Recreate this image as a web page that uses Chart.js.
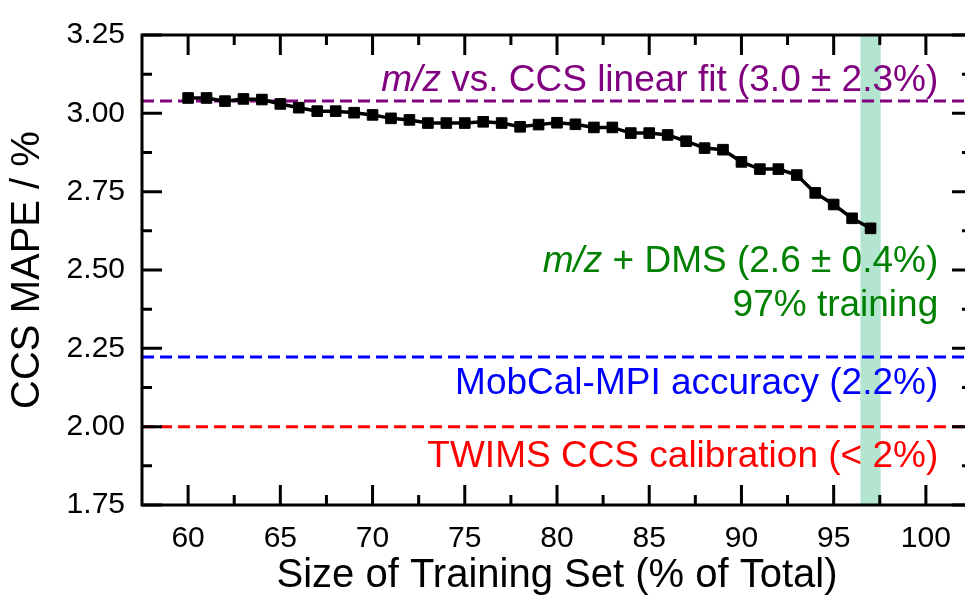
<!DOCTYPE html>
<html>
<head>
<meta charset="utf-8">
<script src="https://cdn.jsdelivr.net/npm/chart.js@4.4.0/dist/chart.umd.min.js"></script>
<style>
  html, body { margin: 0; padding: 0; background: #fff; overflow: hidden; }
  #wrap { width: 982px; height: 603px; }
</style>
</head>
<body>
<div id="wrap"><canvas id="chart" width="982" height="603"></canvas></div>
<script>
// ----- DATA -----
const trainingSize = [60, 61, 62, 63, 64, 65, 66, 67, 68, 69, 70, 71, 72, 73, 74, 75, 76, 77, 78, 79,
                      80, 81, 82, 83, 84, 85, 86, 87, 88, 89, 90, 91, 92, 93, 94, 95, 96, 97];
const mapeValues = [3.049, 3.049, 3.039, 3.046, 3.044, 3.030, 3.018, 3.007, 3.007, 3.002,
                    2.995, 2.984, 2.979, 2.969, 2.969, 2.969, 2.973, 2.969, 2.957, 2.964,
                    2.970, 2.965, 2.955, 2.955, 2.937, 2.937, 2.931, 2.911, 2.889, 2.884,
                    2.845, 2.822, 2.822, 2.803, 2.746, 2.709, 2.665, 2.633];

const xTicks = [60, 65, 70, 75, 80, 85, 90, 95, 100];
const xMinorTicks = [62.5, 67.5, 72.5, 77.5, 82.5, 87.5, 92.5, 97.5];
const yTicks = [1.75, 2.00, 2.25, 2.50, 2.75, 3.00, 3.25];
const yMinorTicks = [1.875, 2.125, 2.375, 2.625, 2.875, 3.125];

const linearFitLevel = 3.039;   // m/z vs. CCS linear fit
const mobcalLevel = 2.222;      // MobCal-MPI accuracy
const twimsLevel = 2.00;        // TWIMS CCS calibration
const highlightRange = [96.45, 97.55];
const xRange = [57.5, 102.5];

// ----- STYLE -----
const FONT = '"Liberation Sans", Arial, sans-serif';
const PURPLE = '#800080', GREEN = '#008000', BLUE = '#0000ff', RED = '#ff0000';
const ANN_SIZE = 37;

// text blocks: [text, italic] segments, right edge and baseline in data units
const annotations = [
  { parts: [['m/z', true], [' vs. CCS linear fit (3.0 \u00b1 2.3%)', false]], color: PURPLE, x: 100.67, y: 3.070 },
  { parts: [['m/z', true], [' + DMS (2.6 \u00b1 0.4%)', false]], color: GREEN, x: 100.67, y: 2.495 },
  { parts: [['97% training', false]], color: GREEN, x: 100.67, y: 2.354 },
  { parts: [['MobCal-MPI accuracy (2.2%)', false]], color: BLUE, x: 100.67, y: 2.103 },
  { parts: [['TWIMS CCS calibration (< 2%)', false]], color: RED, x: 100.67, y: 1.870 }
];

function levelLine(level) {
  return [{ x: xRange[0], y: level }, { x: xRange[1], y: level }];
}

const decorPlugin = {
  id: 'decor',
  beforeDatasetsDraw(chart) {
    const { ctx, chartArea: a, scales: { x } } = chart;
    const x0 = x.getPixelForValue(highlightRange[0]);
    const x1 = x.getPixelForValue(highlightRange[1]);
    ctx.save();
    ctx.fillStyle = '#b3e5d0';
    ctx.fillRect(x0, a.top, x1 - x0, a.bottom - a.top);
    ctx.restore();
  },
  afterDatasetsDraw(chart) {
    const { ctx, scales: { x, y } } = chart;
    ctx.save();
    ctx.textBaseline = 'alphabetic';
    ctx.textAlign = 'left';
    annotations.forEach(ann => {
      let total = 0;
      const widths = ann.parts.map(([txt, it]) => {
        ctx.font = (it ? 'italic ' : '') + ANN_SIZE + 'px ' + FONT;
        const w = ctx.measureText(txt).width;
        total += w;
        return w;
      });
      let px = x.getPixelForValue(ann.x) - total;
      const py = y.getPixelForValue(ann.y);
      ctx.fillStyle = ann.color;
      ann.parts.forEach(([txt, it], i) => {
        ctx.font = (it ? 'italic ' : '') + ANN_SIZE + 'px ' + FONT;
        ctx.fillText(txt, px, py);
        px += widths[i];
      });
    });
    ctx.restore();
  },
  afterDraw(chart) {
    const { ctx, chartArea: a, scales: { x, y } } = chart;
    const MAJOR = 20, MINOR = 10;
    ctx.save();
    ctx.strokeStyle = '#000';
    ctx.lineWidth = 3;
    ctx.beginPath();
    const tickX = (v, len) => {
      const p = x.getPixelForValue(v);
      ctx.moveTo(p, a.bottom); ctx.lineTo(p, a.bottom - len);
      ctx.moveTo(p, a.top); ctx.lineTo(p, a.top + len);
    };
    const tickY = (v, len) => {
      const p = y.getPixelForValue(v);
      ctx.moveTo(a.left, p); ctx.lineTo(a.left + len, p);
      ctx.moveTo(a.right, p); ctx.lineTo(a.right - len, p);
    };
    xTicks.forEach(v => tickX(v, MAJOR));
    xMinorTicks.forEach(v => tickX(v, MINOR));
    yTicks.forEach(v => tickY(v, MAJOR));
    yMinorTicks.forEach(v => tickY(v, MINOR));
    ctx.stroke();
    ctx.strokeRect(a.left, a.top, a.right - a.left, a.bottom - a.top);
    ctx.restore();
  }
};

const dashed = [12, 6];

new Chart(document.getElementById('chart'), {
  type: 'line',
  data: {
    datasets: [
      {
        label: 'CCS MAPE',
        data: trainingSize.map((v, i) => ({ x: v, y: mapeValues[i] })),
        borderColor: '#000',
        backgroundColor: '#000',
        borderWidth: 3.5,
        pointStyle: 'rect',
        pointRadius: 7.5,
        pointBorderWidth: 1,
        tension: 0
      },
      { label: 'linear fit', data: levelLine(linearFitLevel), borderColor: PURPLE, borderWidth: 3, borderDash: dashed, pointRadius: 0 },
      { label: 'MobCal-MPI', data: levelLine(mobcalLevel), borderColor: BLUE, borderWidth: 3, borderDash: dashed, pointRadius: 0 },
      { label: 'TWIMS', data: levelLine(twimsLevel), borderColor: RED, borderWidth: 3, borderDash: dashed, pointRadius: 0 }
    ]
  },
  options: {
    responsive: false,
    animation: false,
    events: [],
    layout: { padding: { left: 0, top: 27, right: 10, bottom: 0 } },
    plugins: { legend: { display: false }, tooltip: { enabled: false } },
    scales: {
      x: {
        type: 'linear',
        min: xRange[0],
        max: xRange[1],
        afterBuildTicks: s => { s.ticks = xTicks.map(v => ({ value: v })); },
        afterFit: s => { s.height = 98; },
        grid: { display: false, drawTicks: false },
        border: { display: false },
        ticks: { color: '#000', font: { family: FONT, size: 30 }, padding: 16, maxRotation: 0 },
        title: { display: true, text: 'Size of Training Set (% of Total)', color: '#000',
                 font: { family: FONT, size: 40 }, padding: { top: 0, bottom: 3 } }
      },
      y: {
        min: 1.75,
        max: 3.25,
        afterBuildTicks: s => { s.ticks = yTicks.map(v => ({ value: v })); },
        afterFit: s => { s.width = 142; },
        grid: { display: false, drawTicks: false },
        border: { display: false },
        ticks: { color: '#000', font: { family: FONT, size: 30 }, padding: 17,
                 callback: v => Number(v).toFixed(2) },
        title: { display: true, text: 'CCS MAPE / %', color: '#000',
                 font: { family: FONT, size: 40 }, padding: { top: 4, bottom: 0 } }
      }
    }
  },
  plugins: [decorPlugin]
});
</script>
</body>
</html>
